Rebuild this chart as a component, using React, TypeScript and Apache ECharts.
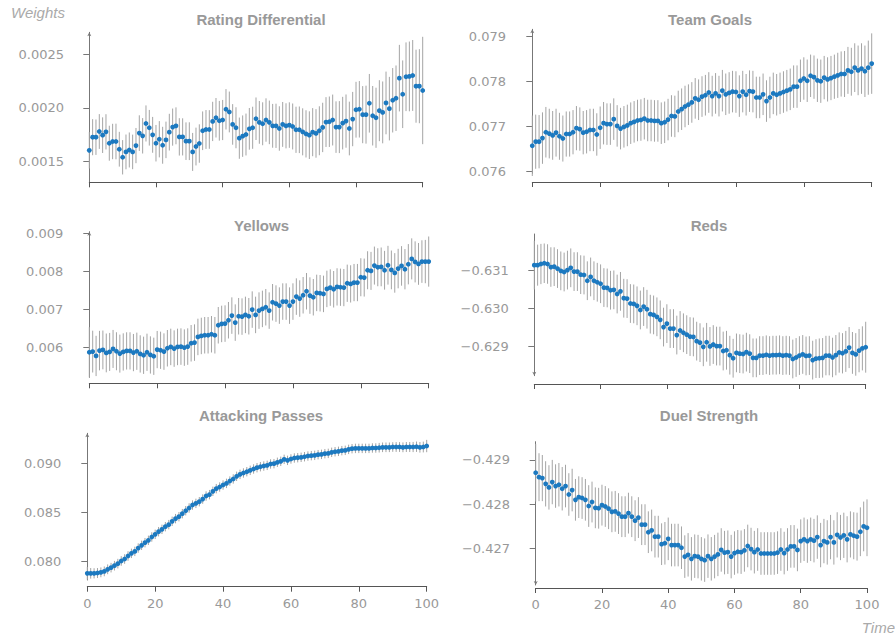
import React, { useEffect, useRef } from 'react';
import * as echarts from 'echarts';

const steps: number[] = Array.from({ length: 101 }, (_, i) => i);
const xTicks = [0, 20, 40, 60, 80, 100];

const ratingValues = [
  0.001606, 0.001728, 0.001728, 0.001781, 0.001747, 0.001778, 0.001672, 0.001688, 0.001688, 0.001616,
  0.001541, 0.001591, 0.001609, 0.001591, 0.00165, 0.001766, 0.001741, 0.001856, 0.001816, 0.00175,
  0.001672, 0.001709, 0.001653, 0.001703, 0.001775, 0.001822, 0.001834, 0.001731, 0.001731, 0.001691,
  0.001691, 0.001591, 0.001641, 0.001669, 0.001788, 0.0018, 0.0018, 0.001875, 0.001909, 0.001881,
  0.001888, 0.001988, 0.001963, 0.001847, 0.001816, 0.001719, 0.001738, 0.001753, 0.001806, 0.001816,
  0.0019, 0.001866, 0.001853, 0.001888, 0.001866, 0.001834, 0.001834, 0.001809, 0.001847, 0.001834,
  0.001841, 0.001828, 0.001797, 0.001797, 0.001778, 0.001759, 0.001747, 0.001775, 0.001763, 0.001788,
  0.001819, 0.001869, 0.001872, 0.001888, 0.001822, 0.001822, 0.001859, 0.001878, 0.001809, 0.001897,
  0.001984, 0.001988, 0.001938, 0.001938, 0.002044, 0.001928, 0.001909, 0.001975, 0.001959, 0.002047,
  0.001994, 0.002072, 0.002091, 0.002278, 0.002128, 0.002291, 0.002294, 0.002303, 0.002203, 0.002203,
  0.002163,
];
const ratingErrors = [
  0.00017, 0.000168, 0.000165, 0.000162, 0.000166, 0.000164, 0.000163, 0.000165, 0.000166, 0.000162,
  0.00016, 0.000162, 0.000163, 0.000161, 0.000164, 0.000166, 0.000165, 0.000168, 0.000166, 0.000167,
  0.00017, 0.000169, 0.000172, 0.00017, 0.000171, 0.000173, 0.000172, 0.000174, 0.000173, 0.000175,
  0.000176, 0.000177, 0.000176, 0.000179, 0.00018, 0.000181, 0.00018, 0.000183, 0.000184, 0.000185,
  0.000187, 0.000188, 0.00019, 0.000189, 0.000191, 0.000192, 0.000193, 0.000195, 0.000194, 0.000196,
  0.000198, 0.000199, 0.0002, 0.000202, 0.000203, 0.000204, 0.000206, 0.000207, 0.000209, 0.00021,
  0.000212, 0.000214, 0.000215, 0.000217, 0.000219, 0.00022, 0.000222, 0.000224, 0.000226, 0.000228,
  0.00023, 0.000232, 0.000235, 0.000237, 0.00024, 0.000242, 0.000245, 0.000248, 0.00025, 0.000253,
  0.00026, 0.000263, 0.000266, 0.00027, 0.000273, 0.000277, 0.00028, 0.000284, 0.000288, 0.000292,
  0.000296, 0.0003, 0.000305, 0.00031, 0.000315, 0.00032, 0.000325, 0.00033, 0.00034, 0.000345,
  0.0005,
];

const teamGoalsValues = [
  0.07657, 0.07666, 0.07666, 0.07674, 0.07687, 0.07684, 0.0768, 0.07686, 0.07678, 0.07673,
  0.07683, 0.07683, 0.07687, 0.07696, 0.07694, 0.07686, 0.07688, 0.07692, 0.07692, 0.07682,
  0.07697, 0.07707, 0.07705, 0.07705, 0.07716, 0.07701, 0.07695, 0.07699, 0.07702, 0.07707,
  0.0771, 0.07713, 0.07714, 0.07717, 0.07713, 0.07713, 0.07712, 0.07712, 0.07707, 0.07709,
  0.07715, 0.07723, 0.07722, 0.07733, 0.07738, 0.07744, 0.07748, 0.07753, 0.07762, 0.07759,
  0.07766, 0.07769, 0.07775, 0.07767, 0.07773, 0.07767, 0.07779, 0.07771, 0.07774, 0.07777,
  0.07776, 0.07767, 0.07777, 0.0777, 0.07778, 0.07777, 0.07764, 0.07764, 0.07771, 0.07756,
  0.07764, 0.07773, 0.0777, 0.07773, 0.07776, 0.07779, 0.07782, 0.07788, 0.07788, 0.07801,
  0.07806, 0.07801, 0.07812, 0.07809, 0.07802, 0.078, 0.07808, 0.07804, 0.07807, 0.0781,
  0.07813, 0.07816, 0.07816, 0.07824, 0.07821, 0.0783, 0.07824, 0.07828, 0.07822, 0.0783,
  0.07839,
];
const teamGoalsErrors = [
  0.00067, 0.0006, 0.00059, 0.00057, 0.00056, 0.00055, 0.00054, 0.00053, 0.00052, 0.00051,
  0.0005, 0.0005, 0.00049, 0.00049, 0.00048, 0.00048, 0.00048, 0.00047, 0.00047, 0.00047,
  0.00047, 0.00047, 0.00046, 0.00046, 0.00046, 0.00046, 0.00046, 0.00046, 0.00046, 0.00046,
  0.00046, 0.00046, 0.00046, 0.00046, 0.00046, 0.00046, 0.00046, 0.00046, 0.00046, 0.00046,
  0.00046, 0.00046, 0.00046, 0.00046, 0.00046, 0.00046, 0.00045, 0.00045, 0.00045, 0.00045,
  0.00045, 0.00045, 0.00045, 0.00045, 0.00045, 0.00045, 0.00046, 0.00046, 0.00046, 0.00046,
  0.00046, 0.00046, 0.00046, 0.00046, 0.00046, 0.00046, 0.00046, 0.00046, 0.00046, 0.00046,
  0.00046, 0.00046, 0.00046, 0.00046, 0.00046, 0.00046, 0.00046, 0.00047, 0.00047, 0.00047,
  0.00047, 0.00047, 0.00047, 0.00048, 0.00048, 0.00048, 0.00048, 0.00049, 0.00049, 0.00049,
  0.0005, 0.0005, 0.00051, 0.00052, 0.00053, 0.00054, 0.00055, 0.00056, 0.00057, 0.0006,
  0.00067,
];

const yellowsValues = [
  0.005868, 0.005886, 0.005772, 0.005912, 0.00593, 0.005851, 0.005877, 0.005956, 0.005895, 0.005833,
  0.005877, 0.005904, 0.005904, 0.00586, 0.005895, 0.005825, 0.005789, 0.005868, 0.005798, 0.005763,
  0.005939, 0.005921, 0.005886, 0.005974, 0.006009, 0.005965, 0.006009, 0.006018, 0.005991, 0.006018,
  0.006105, 0.006123, 0.006272, 0.006298, 0.006316, 0.006316, 0.006342, 0.006316, 0.006579, 0.006614,
  0.006623, 0.006711, 0.006833, 0.006649, 0.006816, 0.006807, 0.006851, 0.006816, 0.006991, 0.006851,
  0.006965, 0.007009, 0.007053, 0.006965, 0.007184, 0.007149, 0.007096, 0.007202, 0.007202, 0.007096,
  0.007202, 0.007333, 0.007281, 0.007368, 0.007474, 0.00736, 0.007316, 0.00743, 0.007421, 0.007404,
  0.007535, 0.00757, 0.007526, 0.007588, 0.007579, 0.00757, 0.007684, 0.007667, 0.007702, 0.007702,
  0.007842, 0.007833, 0.008026, 0.008009, 0.008149, 0.008105, 0.008114, 0.008026, 0.008158, 0.008035,
  0.007956, 0.00807, 0.00814, 0.008053, 0.008184, 0.008325, 0.008246, 0.008193, 0.008254, 0.008254,
  0.008254,
];
const yellowsErrors = [
  0.00066, 0.00055, 0.00053, 0.00052, 0.00051, 0.00051, 0.0005, 0.0005, 0.0005, 0.0005,
  0.00049, 0.00049, 0.00049, 0.00049, 0.00049, 0.00049, 0.00049, 0.00049, 0.00049, 0.00049,
  0.00049, 0.00049, 0.00048, 0.00048, 0.00048, 0.00048, 0.00048, 0.00048, 0.00048, 0.00048,
  0.00048, 0.00048, 0.00048, 0.00048, 0.00048, 0.00048, 0.00048, 0.00048, 0.00048, 0.00048,
  0.00048, 0.00048, 0.00048, 0.00048, 0.00048, 0.00048, 0.00048, 0.00048, 0.00048, 0.00048,
  0.00048, 0.00048, 0.00048, 0.00048, 0.00048, 0.00048, 0.00048, 0.00048, 0.00048, 0.00048,
  0.00048, 0.00048, 0.00048, 0.00048, 0.00048, 0.00048, 0.00048, 0.00048, 0.00048, 0.00048,
  0.00048, 0.00048, 0.00048, 0.00049, 0.00049, 0.00049, 0.00049, 0.00049, 0.00049, 0.00049,
  0.0005, 0.0005, 0.0005, 0.0005, 0.0005, 0.0005, 0.00051, 0.00051, 0.00051, 0.00051,
  0.00052, 0.00052, 0.00052, 0.00053, 0.00053, 0.00054, 0.00054, 0.00055, 0.00056, 0.00057,
  0.00066,
];

const redsValues = [
  -0.63113, -0.63113, -0.63116, -0.63118, -0.63116, -0.63108, -0.63109, -0.63104, -0.63098, -0.63095,
  -0.631, -0.63106, -0.63096, -0.63096, -0.63088, -0.63087, -0.63072, -0.63082, -0.63072, -0.63068,
  -0.63064, -0.63054, -0.63053, -0.63047, -0.63048, -0.63037, -0.63044, -0.63026, -0.63025, -0.63012,
  -0.63011, -0.63006, -0.62995, -0.63004, -0.62997, -0.62984, -0.62982, -0.62977, -0.62969, -0.6295,
  -0.62959, -0.62946, -0.62946, -0.62929, -0.62941, -0.62935, -0.6293, -0.62925, -0.62924, -0.62913,
  -0.62909, -0.62898, -0.6291, -0.62899, -0.62904, -0.629, -0.629, -0.62887, -0.62889, -0.62876,
  -0.62868, -0.62882, -0.6288, -0.62879, -0.62884, -0.6288, -0.62869, -0.62869, -0.62875, -0.62875,
  -0.62877, -0.62875, -0.62876, -0.62876, -0.62877, -0.62875, -0.62876, -0.62875, -0.62866, -0.6287,
  -0.62875, -0.62878, -0.62874, -0.62875, -0.62863, -0.62867, -0.62868, -0.62869, -0.62875, -0.62875,
  -0.6287, -0.62876, -0.62883, -0.62881, -0.62886, -0.62896, -0.62882, -0.62878, -0.62888, -0.62894,
  -0.62897,
];
const redsErrors = [
  0.00064, 0.00054, 0.00053, 0.00052, 0.00052, 0.00052, 0.00051, 0.00051, 0.00051, 0.00051,
  0.00051, 0.00051, 0.00051, 0.00051, 0.00051, 0.00051, 0.00051, 0.00051, 0.00051, 0.00051,
  0.00051, 0.00051, 0.00051, 0.00051, 0.00051, 0.00051, 0.00051, 0.00051, 0.00051, 0.00051,
  0.00051, 0.00051, 0.00051, 0.00051, 0.00051, 0.00051, 0.00051, 0.00051, 0.00051, 0.00051,
  0.00051, 0.00051, 0.00051, 0.00051, 0.00051, 0.00051, 0.00051, 0.00051, 0.00051, 0.00051,
  0.00051, 0.00051, 0.00051, 0.00051, 0.00051, 0.00051, 0.00051, 0.00051, 0.00051, 0.00051,
  0.00051, 0.00051, 0.00051, 0.00051, 0.00051, 0.00051, 0.00051, 0.00051, 0.00051, 0.00051,
  0.00051, 0.00051, 0.00051, 0.00051, 0.00051, 0.00051, 0.00051, 0.00051, 0.00051, 0.00051,
  0.00051, 0.00051, 0.00051, 0.00051, 0.00051, 0.00051, 0.00052, 0.00052, 0.00052, 0.00052,
  0.00052, 0.00053, 0.00053, 0.00053, 0.00054, 0.00054, 0.00055, 0.00056, 0.00057, 0.00058,
  0.00067,
];

const attackingValues = [
  0.07881, 0.07881, 0.07881, 0.07884, 0.07891, 0.07901, 0.07922, 0.07939, 0.07959, 0.0798,
  0.08007, 0.08027, 0.08058, 0.08085, 0.08105, 0.08139, 0.08167, 0.08194, 0.08218, 0.08252,
  0.08279, 0.08306, 0.0833, 0.08357, 0.08378, 0.08412, 0.08439, 0.08459, 0.0849, 0.0852,
  0.08548, 0.08578, 0.08595, 0.08612, 0.08639, 0.0867, 0.08684, 0.08718, 0.08745, 0.08762,
  0.08782, 0.08799, 0.08823, 0.08844, 0.08871, 0.08891, 0.08905, 0.08918, 0.08932, 0.08946,
  0.08959, 0.08969, 0.08976, 0.08983, 0.08997, 0.09, 0.09014, 0.09024, 0.09044, 0.09034,
  0.09048, 0.09058, 0.09061, 0.09065, 0.09071, 0.09078, 0.09082, 0.09085, 0.09092, 0.09095,
  0.09102, 0.09105, 0.09116, 0.09122, 0.09126, 0.09133, 0.09136, 0.09146, 0.09153, 0.09156,
  0.09156, 0.09156, 0.09156, 0.09156, 0.0916, 0.0916, 0.09163, 0.09167, 0.09167, 0.09167,
  0.0917, 0.0917, 0.0917, 0.09167, 0.0917, 0.0917, 0.0917, 0.09173, 0.09167, 0.0917,
  0.0918,
];
const attackingErrors = [
  0.00065, 0.00054, 0.00052, 0.00051, 0.0005, 0.0005, 0.0005, 0.00049, 0.00049, 0.00049,
  0.00049, 0.00049, 0.00049, 0.00048, 0.00048, 0.00048, 0.00048, 0.00048, 0.00048, 0.00048,
  0.00048, 0.00048, 0.00048, 0.00048, 0.00048, 0.00048, 0.00048, 0.00048, 0.00048, 0.00048,
  0.00048, 0.00048, 0.00048, 0.00048, 0.00048, 0.00048, 0.00048, 0.00048, 0.00048, 0.00048,
  0.00048, 0.00048, 0.00048, 0.00048, 0.00048, 0.00048, 0.00048, 0.00048, 0.00048, 0.00048,
  0.00048, 0.00048, 0.00048, 0.00048, 0.00048, 0.00048, 0.00048, 0.00048, 0.00048, 0.00048,
  0.00048, 0.00048, 0.00048, 0.00048, 0.00048, 0.00048, 0.00048, 0.00048, 0.00048, 0.00048,
  0.00048, 0.00048, 0.00048, 0.00048, 0.00048, 0.00048, 0.00048, 0.00048, 0.00048, 0.00048,
  0.00048, 0.00048, 0.00048, 0.00048, 0.00048, 0.00048, 0.00049, 0.00049, 0.00049, 0.00049,
  0.00049, 0.0005, 0.0005, 0.0005, 0.00051, 0.00051, 0.00052, 0.00053, 0.00054, 0.00055,
  0.00063,
];

const duelValues = [
  -0.42871, -0.42861, -0.42859, -0.42846, -0.42838, -0.4285, -0.42841, -0.42844, -0.42835, -0.42841,
  -0.42822, -0.42832, -0.4281, -0.42816, -0.42814, -0.4281, -0.42796, -0.42805, -0.42792, -0.42791,
  -0.42798, -0.42795, -0.4279, -0.42783, -0.42784, -0.42779, -0.42772, -0.42772, -0.4278, -0.42772,
  -0.42763, -0.4277, -0.42754, -0.42754, -0.42737, -0.42741, -0.42727, -0.42727, -0.4271, -0.42712,
  -0.42722, -0.42708, -0.42708, -0.42708, -0.42702, -0.42682, -0.42686, -0.42677, -0.42683, -0.42682,
  -0.42677, -0.42674, -0.42683, -0.42677, -0.42682, -0.42687, -0.42697, -0.42691, -0.42692, -0.42682,
  -0.4269, -0.42693, -0.42692, -0.42696, -0.42706, -0.42699, -0.42692, -0.42698, -0.42689, -0.42689,
  -0.42689, -0.42689, -0.42689, -0.42691, -0.42698, -0.4269, -0.42698, -0.42705, -0.42705, -0.42697,
  -0.42717, -0.42721, -0.42717, -0.42721, -0.42718, -0.42726, -0.42708, -0.42717, -0.42714, -0.42726,
  -0.42714, -0.42731, -0.42725, -0.4273, -0.42721, -0.42732, -0.42729, -0.42727, -0.42738, -0.4275,
  -0.42747,
];
const duelErrors = [
  0.00065, 0.00054, 0.00052, 0.00051, 0.0005, 0.0005, 0.00049, 0.00049, 0.00049, 0.00048,
  0.00048, 0.00048, 0.00047, 0.00047, 0.00047, 0.00047, 0.00047, 0.00046, 0.00046, 0.00046,
  0.00046, 0.00046, 0.00046, 0.00046, 0.00046, 0.00046, 0.00046, 0.00046, 0.00046, 0.00046,
  0.00046, 0.00046, 0.00046, 0.00046, 0.00047, 0.00047, 0.00047, 0.00047, 0.00047, 0.00048,
  0.00048, 0.00048, 0.00048, 0.00048, 0.00048, 0.00048, 0.00049, 0.00049, 0.00049, 0.00049,
  0.00049, 0.00049, 0.00049, 0.00049, 0.00049, 0.00049, 0.00049, 0.00049, 0.00049, 0.00049,
  0.00049, 0.00049, 0.00049, 0.00048, 0.00048, 0.00048, 0.00048, 0.00048, 0.00048, 0.00048,
  0.00048, 0.00048, 0.00048, 0.00048, 0.00048, 0.00048, 0.00048, 0.00048, 0.00048, 0.00048,
  0.00049, 0.00049, 0.00049, 0.00049, 0.00049, 0.00049, 0.0005, 0.0005, 0.0005, 0.0005,
  0.0005, 0.00051, 0.00051, 0.00051, 0.00052, 0.00052, 0.00053, 0.00054, 0.00055, 0.00056,
  0.00064,
];

const ratingTicks = [0.0015, 0.002, 0.0025];
const teamGoalsTicks = [0.076, 0.077, 0.078, 0.079];
const yellowsTicks = [0.006, 0.007, 0.008, 0.009];
const redsTicks = [-0.631, -0.63, -0.629];
const attackingTicks = [0.08, 0.085, 0.09];
const duelTicks = [-0.429, -0.428, -0.427];

const panelTitles = ['Rating Differential', 'Team Goals', 'Yellows', 'Reds', 'Attacking Passes', 'Duel Strength'];

// layout (pixels): x0 / x100 = plot x-range, top/bottom = y spine extent, spineX = y spine, xLineY = x spine
const layout = [
  { x0: 89.3, x100: 422.7, top: 32.3, bottom: 182.3, spineX: 73, xLineY: 182.3, titleX: 261, titleY: 19 },
  { x0: 532.3, x100: 871.7, top: 29.3, bottom: 173.3, spineX: 515, xLineY: 182, titleX: 710, titleY: 19 },
  { x0: 89.3, x100: 428.7, top: 231.7, bottom: 377.3, spineX: 72.3, xLineY: 383.3, titleX: 261.5, titleY: 225.7 },
  { x0: 534.3, x100: 865.7, top: 234, bottom: 375.7, spineX: 517.7, xLineY: 384, titleX: 709, titleY: 225.7 },
  { x0: 87.3, x100: 426.7, top: 433.3, bottom: 580, spineX: 70.3, xLineY: 586.7, titleX: 261, titleY: 415 },
  { x0: 535.7, x100: 867, top: 441.7, bottom: 585, spineX: 519, xLineY: 588, titleX: 709, titleY: 415 },
];

const panels = [
  { values: ratingValues, errors: ratingErrors, ticks: ratingTicks, min: 0.001308, max: 0.002705, digits: 4, inverse: false },
  { values: teamGoalsValues, errors: teamGoalsErrors, ticks: teamGoalsTicks, min: 0.07596, max: 0.07915, digits: 3, inverse: false },
  { values: yellowsValues, errors: yellowsErrors, ticks: yellowsTicks, min: 0.00521, max: 0.00904, digits: 3, inverse: false },
  { values: redsValues, errors: redsErrors, ticks: redsTicks, min: -0.63195, max: -0.62822, digits: 3, inverse: true },
  { values: attackingValues, errors: attackingErrors, ticks: attackingTicks, min: 0.07813, max: 0.0931, digits: 3, inverse: false },
  { values: duelValues, errors: duelErrors, ticks: duelTicks, min: -0.42941, max: -0.42618, digits: 3, inverse: true },
];

const W = 895;
const H = 639;
const LABEL_FONT = 'DejaVu Sans';
const TITLE_FONT = 'Liberation Sans';

export default function App() {
  const ref = useRef<HTMLDivElement>(null);

  useEffect(() => {
    if (!ref.current) return;
    const chart = echarts.init(ref.current, null, { renderer: 'svg' });

    const grids: any[] = [];
    const xAxes: any[] = [];
    const yAxes: any[] = [];
    const series: any[] = [];
    const graphics: any[] = [];

    panels.forEach((p, i) => {
      const L = layout[i];
      const bottomRow = i >= 4;
      grids.push({
        left: L.x0,
        width: L.x100 - L.x0,
        top: L.top,
        height: L.bottom - L.top,
        containLabel: false,
        outerBoundsMode: 'none',
      });
      xAxes.push({
        type: 'value',
        gridIndex: i,
        min: 0,
        max: 100,
        interval: 20,
        position: 'bottom',
        offset: L.xLineY - L.bottom,
        axisLine: { show: true, lineStyle: { color: '#555', width: 1 } },
        axisTick: { show: true, length: 5, lineStyle: { color: '#555', width: 1 } },
        axisLabel: {
          show: bottomRow,
          color: '#999',
          fontFamily: LABEL_FONT,
          fontSize: 13,
          margin: 10,
          customValues: xTicks,
        },
        splitLine: { show: false },
      });
      yAxes.push({
        type: 'value',
        gridIndex: i,
        min: p.min,
        max: p.max,
        inverse: p.inverse,
        position: 'left',
        offset: L.x0 - L.spineX,
        axisLine: {
          show: true,
          symbol: p.inverse ? ['arrow', 'none'] : ['none', 'arrow'],
          symbolSize: [3, 4],
          lineStyle: { color: '#777', width: 1 },
        },
        axisTick: { show: true, length: 6, customValues: p.ticks, lineStyle: { color: '#777', width: 1 } },
        axisLabel: {
          show: true,
          customValues: p.ticks,
          color: '#999',
          fontFamily: LABEL_FONT,
          fontSize: 13,
          margin: 9,
          formatter: (v: number) => v.toFixed(p.digits).replace('-', '\u2212'),
        },
        splitLine: { show: false },
      });
      series.push({
        type: 'custom',
        xAxisIndex: i,
        yAxisIndex: i,
        clip: false,
        silent: true,
        data: steps.map((s, k) => [s, p.values[k] - p.errors[k], p.values[k] + p.errors[k]]),
        encode: { x: 0, y: [1, 2] },
        renderItem: (_params: any, api: any) => {
          const a = api.coord([api.value(0), api.value(1)]);
          const b = api.coord([api.value(0), api.value(2)]);
          return {
            type: 'line',
            shape: { x1: a[0], y1: a[1], x2: b[0], y2: b[1] },
            style: { stroke: '#a4a4a4', lineWidth: 1 },
          };
        },
        z: 2,
      });
      series.push({
        type: 'scatter',
        xAxisIndex: i,
        yAxisIndex: i,
        clip: false,
        silent: true,
        symbol: 'circle',
        symbolSize: 4.8,
        itemStyle: { color: '#1c79c0', opacity: 1 },
        data: steps.map((s, k) => [s, p.values[k]]),
        z: 3,
      });
      graphics.push({
        type: 'text',
        x: L.titleX,
        y: L.titleY,
        style: {
          text: panelTitles[i],
          fill: '#999',
          font: `bold 15px "${TITLE_FONT}"`,
          textAlign: 'center',
          textVerticalAlign: 'middle',
        },
      });
    });

    graphics.push({
      type: 'text',
      x: 11,
      y: 12,
      style: {
        text: 'Weights',
        fill: '#aaa',
        font: `italic 15px "${TITLE_FONT}"`,
        textAlign: 'left',
        textVerticalAlign: 'middle',
      },
    });
    graphics.push({
      type: 'text',
      x: 895,
      y: 627,
      style: {
        text: 'Time',
        fill: '#aaa',
        font: `italic 15px "${TITLE_FONT}"`,
        textAlign: 'right',
        textVerticalAlign: 'middle',
      },
    });

    chart.setOption({
      animation: false,
      backgroundColor: '#fff',
      grid: grids,
      xAxis: xAxes,
      yAxis: yAxes,
      series,
      graphic: graphics,
    });

    return () => chart.dispose();
  }, []);

  return <div ref={ref} style={{ position: 'fixed', left: 0, top: 0, width: W, height: H }} />;
}
